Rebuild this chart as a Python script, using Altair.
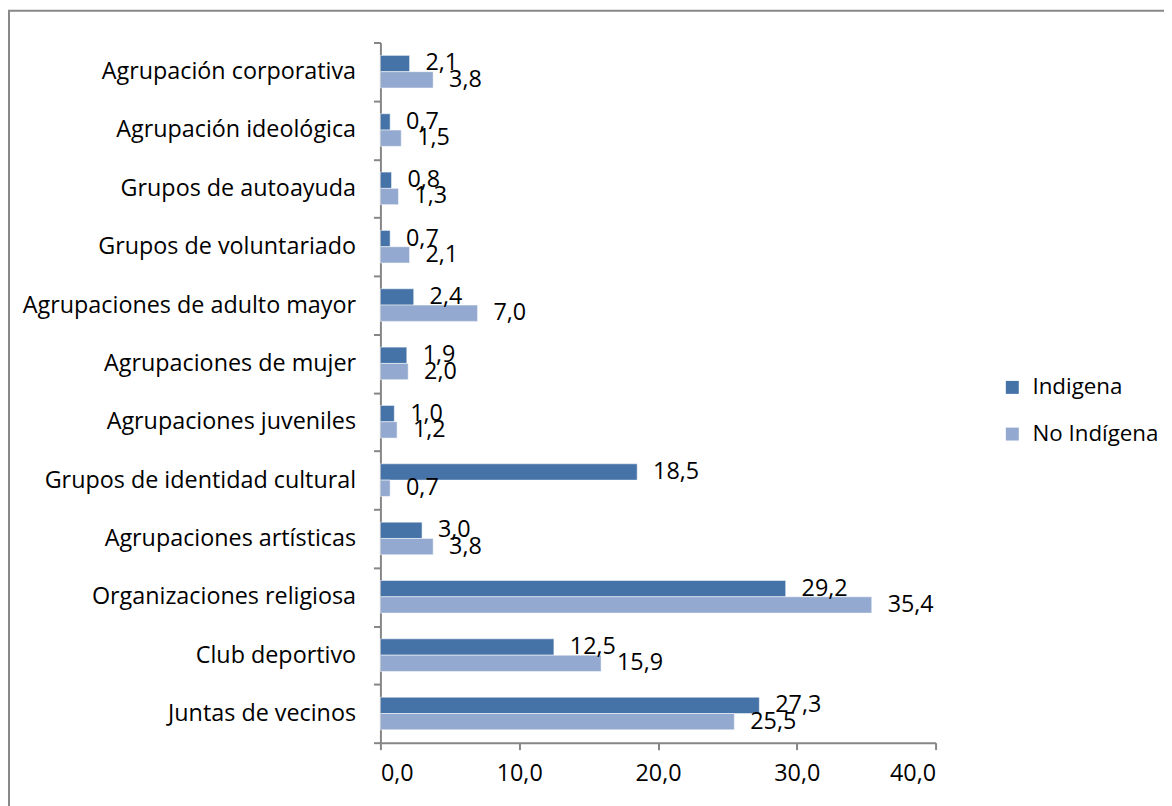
import altair as alt
import pandas as pd

categories = [
    "Agrupación corporativa",
    "Agrupación ideológica",
    "Grupos de autoayuda",
    "Grupos de voluntariado",
    "Agrupaciones de adulto mayor",
    "Agrupaciones de mujer",
    "Agrupaciones juveniles",
    "Grupos de identidad cultural",
    "Agrupaciones artísticas",
    "Organizaciones religiosa",
    "Club deportivo",
    "Juntas de vecinos",
]
indigena = [2.1, 0.7, 0.8, 0.7, 2.4, 1.9, 1.0, 18.5, 3.0, 29.2, 12.5, 27.3]
no_indigena = [3.8, 1.5, 1.3, 2.1, 7.0, 2.0, 1.2, 0.7, 3.8, 35.4, 15.9, 25.5]
series = ["Indigena", "No Indígena"]
colors = ["#4572A7", "#93A9CF"]
x_ticks = [0, 10, 20, 30, 40]

rows = []
for c, a, b in zip(categories, indigena, no_indigena):
    rows.append({"cat": c, "serie": series[0], "val": a, "lbl": f"{a:.1f}".replace(".", ",")})
    rows.append({"cat": c, "serie": series[1], "val": b, "lbl": f"{b:.1f}".replace(".", ",")})
df = pd.DataFrame(rows)

FONT = "Open Sans"
FS = 23.5
W, H = 559, 705
AX = "#868686"

y_enc = alt.Y(
    "cat:N",
    sort=categories,
    title=None,
    scale=alt.Scale(paddingInner=0, paddingOuter=0),
    axis=alt.Axis(
        tickBand="extent",
        tickSize=7,
        tickColor=AX,
        tickWidth=2,
        domainColor=AX,
        domainWidth=2,
        grid=False,
        labelFont=FONT,
        labelFontSize=FS,
        labelColor="black",
        labelPadding=18,
        labelLimit=400,
    ),
)
yoff = alt.YOffset("serie:N", sort=series, scale=alt.Scale(paddingOuter=0.79, paddingInner=0))
x_enc = alt.X(
    "val:Q",
    title=None,
    scale=alt.Scale(domain=[0, 40], nice=False),
    axis=alt.Axis(
        values=x_ticks,
        grid=False,
        tickSize=7,
        tickColor=AX,
        tickWidth=2,
        domainColor=AX,
        domainWidth=2,
        labelFont=FONT,
        labelFontSize=FS,
        labelColor="black",
        labelPadding=12,
        labelExpr="replace(format(datum.value, '.1f'), '.', ',')",
    ),
)
color_enc = alt.Color(
    "serie:N",
    sort=series,
    scale=alt.Scale(domain=series, range=colors),
    legend=alt.Legend(
        title=None,
        orient="none",
        legendX=625,
        legendY=336,
        symbolType="square",
        symbolSize=170,
        symbolStrokeWidth=0,
        labelFont=FONT,
        labelFontSize=22.5,
        labelColor="black",
        labelOffset=9,
        rowPadding=24,
    ),
)

bars = alt.Chart(df).mark_bar(stroke="white", strokeWidth=0.5).encode(
    y=y_enc, yOffset=yoff, x=x_enc, color=color_enc
)
labels = alt.Chart(df).mark_text(
    align="left", baseline="middle", dx=16, dy=0, font=FONT, fontSize=FS, color="black"
).encode(y=y_enc, yOffset=yoff, x=x_enc, text="lbl:N")

border = alt.Chart(pd.DataFrame({"a": [0]})).mark_rect(
    fill="transparent", stroke="#888888", strokeWidth=2, clip=False
).encode(
    x=alt.value(-374), x2=alt.value(W + 260), y=alt.value(-32), y2=alt.value(H + 100)
)

chart = (
    alt.layer(border, bars, labels)
    .properties(
        width=W,
        height=H,
        background="white",
        autosize=alt.AutoSizeParams(type="none"),
        padding={"left": 375, "top": 32, "right": 230, "bottom": 61},
    )
    .configure_view(stroke="transparent", strokeWidth=0)
    .configure_axis(grid=False)
)

chart.save("out.html", embed_options={"renderer": "svg", "actions": False})
